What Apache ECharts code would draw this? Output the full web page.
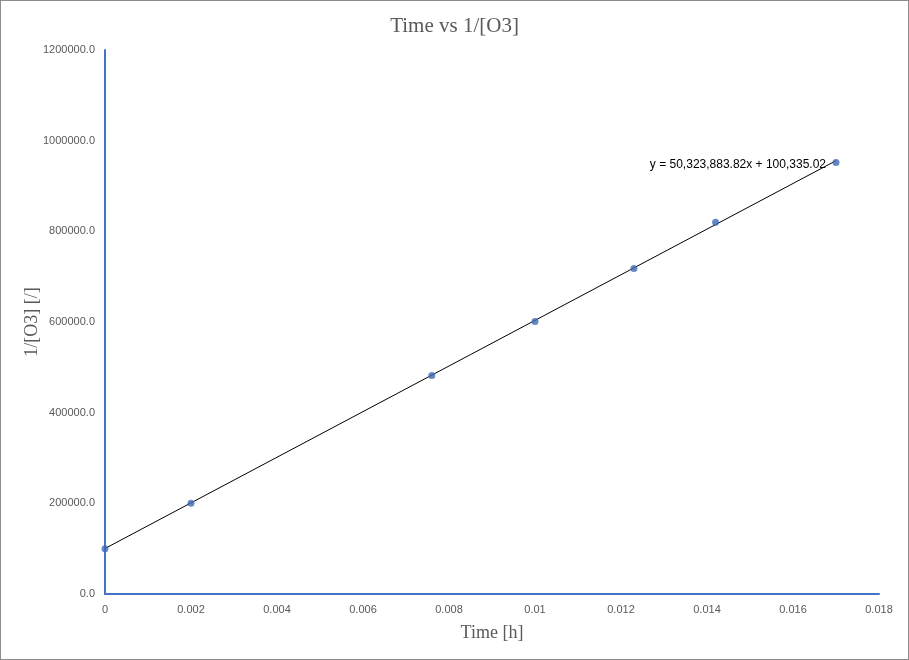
<!DOCTYPE html>
<html>
<head>
<meta charset="utf-8">
<script src="https://cdn.jsdelivr.net/npm/echarts@6/dist/echarts.min.js"></script>
<style>
html,body{margin:0;padding:0;background:#fff;}
#c{width:907px;height:658px;border:1px solid #8c8c8c;}
</style>
</head>
<body>
<div id="c"></div>
<script>
const timeH = [0, 0.002, 0.0076, 0.010, 0.0123, 0.0142, 0.0170];
const invO3 = [100000, 200000, 482000, 601000, 718000, 820000, 952000];
const trendX = [0, 0.017];
const trendY = [100335.02, 955841.05];
const trendLabel = 'y = 50,323,883.82x + 100,335.02';

const chart = echarts.init(document.getElementById('c'));
chart.setOption({
  animation: false,
  title: {
    text: 'Time vs 1/[O3]',
    left: 'center',
    top: 10,
    textStyle: {fontFamily: 'Liberation Serif', fontSize: 21, fontWeight: 'normal', color: '#595959'}
  },
  grid: {left: 104, right: 29, top: 49, bottom: 65},
  xAxis: {
    type: 'value', min: 0, max: 0.018, interval: 0.002,
    name: 'Time [h]', nameLocation: 'middle', nameGap: 30,
    nameTextStyle: {fontFamily: 'Liberation Serif', fontSize: 18, color: '#595959'},
    axisLine: {show: true, lineStyle: {color: '#4472C4', width: 2}},
    axisTick: {show: false},
    splitLine: {show: false},
    axisLabel: {color: '#595959', fontFamily: 'Liberation Sans', fontSize: 11, margin: 10,
      formatter: v => v === 0 ? '0' : String(parseFloat(v.toFixed(4)))}
  },
  yAxis: {
    type: 'value', min: 0, max: 1200000, interval: 200000,
    name: '1/[O3] [/]', nameLocation: 'middle', nameGap: 64, nameMoveOverlap: false,
    nameTextStyle: {fontFamily: 'Liberation Serif', fontSize: 18, color: '#595959'},
    axisLine: {show: true, lineStyle: {color: '#4472C4', width: 2}},
    axisTick: {show: false},
    splitLine: {show: false},
    axisLabel: {color: '#595959', fontFamily: 'Liberation Sans', fontSize: 11, margin: 10,
      formatter: v => v.toFixed(1)}
  },
  series: [
    {
      type: 'line',
      data: trendX.map((x, i) => [x, trendY[i]]),
      symbol: 'none',
      lineStyle: {color: '#000', width: 1},
      z: 2,
      endLabel: {show: true, formatter: trendLabel, position: 'left', offset: [-18, 4],
        color: '#000', fontFamily: 'Liberation Sans', fontSize: 12, align: 'right'}
    },
    {
      type: 'scatter',
      data: timeH.map((x, i) => [x, invO3[i]]),
      symbol: 'circle',
      symbolSize: 7,
      itemStyle: {color: '#3F69B5'},
      z: 3
    }
  ]
});
</script>
</body>
</html>
